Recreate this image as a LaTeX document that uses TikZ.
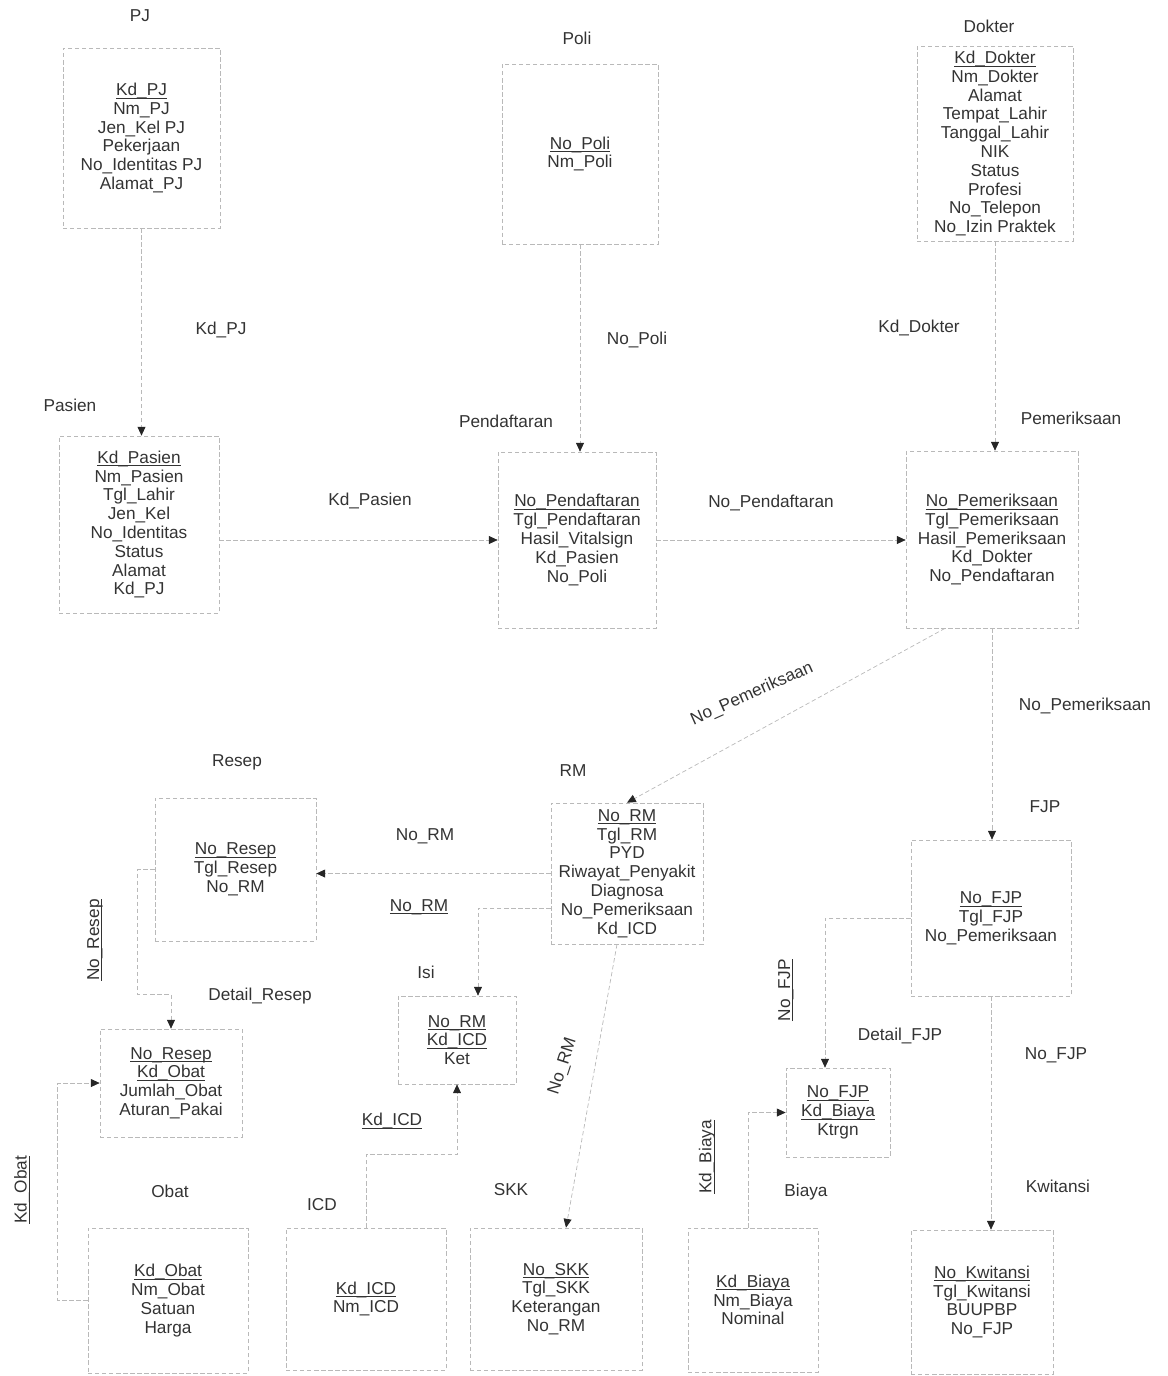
\documentclass[tikz,border=0pt]{standalone}
\usepackage{fontspec}
\setmainfont{Liberation Sans}
\usetikzlibrary{arrows.meta, positioning}
\newcommand{\pk}[1]{\setbox0\hbox{#1}\rlap{\rule[-1.6pt]{\wd0}{0.4pt}}\box0}

\begin{document}
\begin{tikzpicture}[x=0.02cm, y=-0.02cm,
	every node/.style={font=\fontsize{9.8}{10.7}\selectfont, text=black!80},
	tbl/.style={draw=gray!55, dash pattern=on 2.5pt off 1.5pt, align=center, inner sep=0pt},
	rel/.style={draw=gray!55, dash pattern=on 2.5pt off 1.5pt, -{Triangle[length=5pt, width=4.5pt, color=black!85]}}]
	\useasboundingbox (0,0) rectangle (1167,1376);
	\node[tbl, minimum width=3.14cm, minimum height=3.6cm] (pj) at (141.5,138) {\pk{Kd\_PJ}\\Nm\_PJ\\Jen\_Kel PJ\\Pekerjaan\\No\_Identitas PJ\\Alamat\_PJ};
	\node[tbl, minimum width=3.12cm, minimum height=3.6cm] (poli) at (580,154) {\pk{No\_Poli}\\Nm\_Poli};
	\node[tbl, minimum width=3.12cm, minimum height=3.9cm] (dokter) at (995,143.5) {\pk{Kd\_Dokter}\\Nm\_Dokter\\Alamat\\Tempat\_Lahir\\Tanggal\_Lahir\\NIK\\Status\\Profesi\\No\_Telepon\\No\_Izin Praktek};
	\node[tbl, minimum width=3.2cm, minimum height=3.54cm] (pasien) at (139,524.5) {\pk{Kd\_Pasien}\\Nm\_Pasien\\Tgl\_Lahir\\Jen\_Kel\\No\_Identitas\\Status\\Alamat\\Kd\_PJ};
	\node[tbl, minimum width=3.16cm, minimum height=3.52cm] (daftar) at (577,540) {\pk{No\_Pendaftaran}\\Tgl\_Pendaftaran\\Hasil\_Vitalsign\\Kd\_Pasien\\No\_Poli};
	\node[tbl, minimum width=3.44cm, minimum height=3.54cm] (periksa) at (992,539.5) {\pk{No\_Pemeriksaan}\\Tgl\_Pemeriksaan\\Hasil\_Pemeriksaan\\Kd\_Dokter\\No\_Pendaftaran};
	\node[tbl, minimum width=3.22cm, minimum height=2.86cm] (resep) at (235.5,869.5) {\pk{No\_Resep}\\Tgl\_Resep\\No\_RM};
	\node[tbl, minimum width=3.04cm, minimum height=2.82cm] (rm) at (627,873.5) {\pk{No\_RM}\\Tgl\_RM\\PYD\\Riwayat\_Penyakit\\Diagnosa\\No\_Pemeriksaan\\Kd\_ICD};
	\node[tbl, minimum width=3.2cm, minimum height=3.12cm] (fjp) at (991,918) {\pk{No\_FJP}\\Tgl\_FJP\\No\_Pemeriksaan};
	\node[tbl, minimum width=2.84cm, minimum height=2.16cm] (dresep) at (171,1083) {\pk{No\_Resep}\\\pk{Kd\_Obat}\\Jumlah\_Obat\\Aturan\_Pakai};
	\node[tbl, minimum width=2.36cm, minimum height=1.76cm] (isi) at (457,1040) {\pk{No\_RM}\\\pk{Kd\_ICD}\\Ket};
	\node[tbl, minimum width=2.08cm, minimum height=1.78cm] (dfjp) at (838,1112.5) {\pk{No\_FJP}\\\pk{Kd\_Biaya}\\Ktrgn};
	\node[tbl, minimum width=3.2cm, minimum height=2.9cm] (obat) at (168,1300.5) {\pk{Kd\_Obat}\\Nm\_Obat\\Satuan\\Harga};
	\node[tbl, minimum width=3.2cm, minimum height=2.84cm] (icd) at (366,1299) {\pk{Kd\_ICD}\\Nm\_ICD};
	\node[tbl, minimum width=3.44cm, minimum height=2.84cm] (skk) at (556,1299) {\pk{No\_SKK}\\Tgl\_SKK\\Keterangan\\No\_RM};
	\node[tbl, minimum width=2.6cm, minimum height=2.88cm] (biaya) at (753,1300) {\pk{Kd\_Biaya}\\Nm\_Biaya\\Nominal};
	\node[tbl, minimum width=2.84cm, minimum height=2.88cm] (kwitansi) at (982,1302) {\pk{No\_Kwitansi}\\Tgl\_Kwitansi\\BUUPBP\\No\_FJP};

	\node (tpj) at (140,16) {PJ};
	\node (tpoli) at (577,38) {Poli};
	\node (tdokter) at (989,26) {Dokter};
	\node (tpasien) at (70,405) {Pasien};
	\node (tdaftar) at (506,421) {Pendaftaran};
	\node (tperiksa) at (1071,418) {Pemeriksaan};
	\node (tresep) at (237,762) {Resep};
	\node (trm) at (573,771) {RM};
	\node (tfjp) at (1045,807) {FJP};
	\node (tdresep) at (260,996) {Detail\_Resep};
	\node (tisi) at (426,972) {Isi};
	\node (tdfjp) at (900,1036) {Detail\_FJP};
	\node (tobat) at (170,1191) {Obat};
	\node (ticd) at (322,1205) {ICD};
	\node (tskk) at (511,1190) {SKK};
	\node (tbiaya) at (806,1192) {Biaya};
	\node (tkwitansi) at (1058,1186) {Kwitansi};

	\draw[rel] (pj.south) -- (pj.south |- pasien.north);
	\draw[rel] (poli.south) -- (poli.south |- daftar.north);
	\draw[rel] (dokter.south) -- (dokter.south |- periksa.north);
	\draw[rel] (pasien.east |- daftar.west) -- (daftar.west);
	\draw[rel] (daftar.east) -- (daftar.east -| periksa.west);
	\draw[rel] ([xshift=-0.94cm]periksa.south) -- (rm.north);
	\draw[rel] (periksa.south) -- (periksa.south |- fjp.north);
	\draw[rel] (rm.west) -- (rm.west -| resep.east);
	\draw[rel] ([yshift=-0.69cm]rm.west) -| ([xshift=0.42cm]isi.north);
	\draw[rel] (resep.west) -- ++(-17,0) |- ([yshift=0.68cm]dresep.north) -- (dresep.north);
	\draw[rel] (obat.west) -- ++(-30,0) |- (dresep.west);
	\draw[rel] (icd.north) -- ++(0,-73) -| (isi.south);
	\draw[rel] ([xshift=-0.2cm]rm.south) -- ([xshift=0.2cm]skk.north);
	\draw[rel] (fjp.west) -| ([xshift=-0.26cm]dfjp.north);
	\draw[rel] ([xshift=-0.1cm]biaya.north) |- (dfjp.west);
	\draw[rel] (fjp.south) -- (fjp.south |- kwitansi.north);

	\node (lkdpj) at (221,330) {Kd\_PJ};
	\node (lnopoli) at (637,340) {No\_Poli};
	\node (lkddokter) at (919,328) {Kd\_Dokter};
	\node (lkdpasien) at (370,501) {Kd\_Pasien};
	\node (lnodaftar) at (771,503) {No\_Pendaftaran};
	\node[rotate=24] (lnoperiksa1) at (752,694) {No\_Pemeriksaan};
	\node (lnoperiksa2) at (1085,706) {No\_Pemeriksaan};
	\node (lnorm1) at (425,836) {No\_RM};
	\node (lnorm2) at (419,907) {\pk{No\_RM}};
	\node[rotate=90] (lnoresep) at (95,940) {\pk{No\_Resep}};
	\node[rotate=90] (lkdobat) at (22,1190) {\pk{Kd\_Obat}};
	\node (lkdicd) at (392,1121) {\pk{Kd\_ICD}};
	\node[rotate=72] (lnorm3) at (563,1066) {No\_RM};
	\node[rotate=90] (lnofjp1) at (786,990) {\pk{No\_FJP}};
	\node[rotate=90] (lkdbiaya) at (707,1157) {\pk{Kd\_Biaya}};
	\node (lnofjp2) at (1056,1055) {No\_FJP};
\end{tikzpicture}
\end{document}
